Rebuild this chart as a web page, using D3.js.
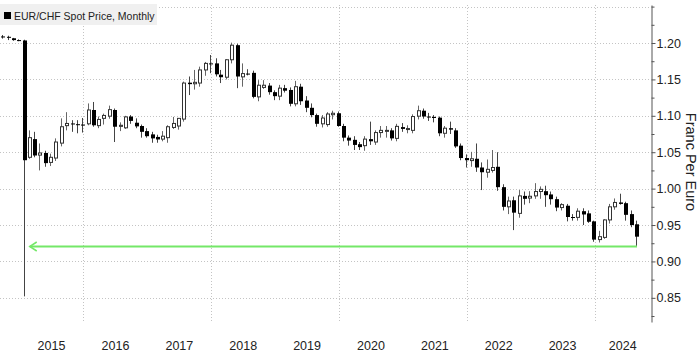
<!DOCTYPE html>
<html>
<head>
<meta charset="utf-8">
<script src="https://cdn.jsdelivr.net/npm/d3@7"></script>
<style>
body { margin: 0; background: #fff; }
text { font-family: "Liberation Sans", Arial, sans-serif; }
</style>
</head>
<body>
<svg id="chart" width="700" height="353"></svg>
<script>
// EUR/CHF monthly candles, Sep 2014 - Aug 2024
const months = [
  "2014-09","2014-10","2014-11","2014-12",
  "2015-01","2015-02","2015-03","2015-04","2015-05","2015-06","2015-07","2015-08","2015-09","2015-10","2015-11","2015-12",
  "2016-01","2016-02","2016-03","2016-04","2016-05","2016-06","2016-07","2016-08","2016-09","2016-10","2016-11","2016-12",
  "2017-01","2017-02","2017-03","2017-04","2017-05","2017-06","2017-07","2017-08","2017-09","2017-10","2017-11","2017-12",
  "2018-01","2018-02","2018-03","2018-04","2018-05","2018-06","2018-07","2018-08","2018-09","2018-10","2018-11","2018-12",
  "2019-01","2019-02","2019-03","2019-04","2019-05","2019-06","2019-07","2019-08","2019-09","2019-10","2019-11","2019-12",
  "2020-01","2020-02","2020-03","2020-04","2020-05","2020-06","2020-07","2020-08","2020-09","2020-10","2020-11","2020-12",
  "2021-01","2021-02","2021-03","2021-04","2021-05","2021-06","2021-07","2021-08","2021-09","2021-10","2021-11","2021-12",
  "2022-01","2022-02","2022-03","2022-04","2022-05","2022-06","2022-07","2022-08","2022-09","2022-10","2022-11","2022-12",
  "2023-01","2023-02","2023-03","2023-04","2023-05","2023-06","2023-07","2023-08","2023-09","2023-10","2023-11","2023-12",
  "2024-01","2024-02","2024-03","2024-04","2024-05","2024-06","2024-07","2024-08"
];
const open = [
  1.2090,1.2085,1.2065,1.2040,
  1.2035,1.0430,1.0680,1.0460,1.0490,1.0360,1.0420,1.0625,1.0865,1.0895,1.0885,1.0880,
  1.0890,1.1080,1.0865,1.0965,1.0995,1.1080,1.0855,1.0835,1.0990,1.0905,1.0860,1.0790,
  1.0745,1.0710,1.0680,1.0700,1.0840,1.0860,1.0955,1.1455,1.1440,1.1450,1.1630,1.1720,
  1.1720,1.1565,1.1530,1.1770,1.1970,1.1535,1.1580,1.1590,1.1260,1.1390,1.1415,1.1325,
  1.1270,1.1380,1.1355,1.1165,1.1400,1.1210,1.1110,1.1010,1.0890,1.0880,1.1015,1.1035,
  1.0860,1.0700,1.0670,1.0610,1.0590,1.0680,1.0640,1.0770,1.0800,1.0800,1.0690,1.0845,
  1.0820,1.0800,1.0995,1.1070,1.0990,1.0985,1.0975,1.0760,1.0830,1.0800,1.0590,1.0420,
  1.0385,1.0410,1.0290,1.0225,1.0250,1.0300,1.0020,0.9750,0.9840,0.9660,0.9900,0.9870,
  0.9900,0.9960,0.9965,0.9920,0.9855,0.9740,0.9765,0.9610,0.9605,0.9690,0.9660,0.9550,
  0.9300,0.9330,0.9570,0.9750,0.9810,0.9800,0.9650,0.9510
];
const high = [
  1.2110,1.2100,1.2070,1.2050,
  1.2045,1.0800,1.0780,1.0620,1.0520,1.0480,1.0690,1.0965,1.1050,1.0940,1.0940,1.0970,
  1.1170,1.1190,1.0990,1.1030,1.1140,1.1100,1.0910,1.1000,1.1010,1.0965,1.0880,1.0830,
  1.0780,1.0740,1.0790,1.0870,1.0985,1.0970,1.1470,1.1540,1.1630,1.1675,1.1740,1.1835,
  1.1790,1.1630,1.1780,1.2005,1.1990,1.1720,1.1640,1.1620,1.1490,1.1490,1.1450,1.1350,
  1.1425,1.1425,1.1390,1.1480,1.1440,1.1270,1.1170,1.1030,1.1010,1.1050,1.1070,1.1060,
  1.0890,1.0730,1.0720,1.0640,1.0720,1.0920,1.0800,1.0860,1.0860,1.0830,1.0890,1.0900,
  1.0870,1.1020,1.1140,1.1100,1.1040,1.1010,1.0990,1.0860,1.0920,1.0830,1.0620,1.0470,
  1.0505,1.0620,1.0360,1.0400,1.0530,1.0500,1.0060,0.9890,0.9890,0.9980,0.9960,0.9965,
  1.0075,1.0030,1.0040,0.9960,0.9890,0.9800,0.9790,0.9650,0.9730,0.9730,0.9700,0.9560,
  0.9420,0.9580,0.9790,0.9865,0.9930,0.9820,0.9700,0.9560
];
const low = [
  1.2060,1.2040,1.2030,1.2025,
  0.8520,1.0410,1.0430,1.0250,1.0300,1.0310,1.0380,1.0580,1.0800,1.0780,1.0760,1.0770,
  1.0870,1.0850,1.0830,1.0880,1.0960,1.0640,1.0790,1.0820,1.0890,1.0830,1.0700,1.0700,
  1.0630,1.0630,1.0650,1.0630,1.0820,1.0810,1.0920,1.1285,1.1360,1.1400,1.1550,1.1585,
  1.1540,1.1450,1.1500,1.1720,1.1380,1.1400,1.1555,1.1240,1.1200,1.1370,1.1290,1.1215,
  1.1215,1.1320,1.1130,1.1130,1.1150,1.1050,1.0980,1.0850,1.0840,1.0850,1.0950,1.0850,
  1.0650,1.0590,1.0530,1.0530,1.0520,1.0600,1.0600,1.0700,1.0700,1.0660,1.0650,1.0780,
  1.0760,1.0760,1.0950,1.0960,1.0930,1.0910,1.0720,1.0700,1.0750,1.0560,1.0390,1.0290,
  1.0300,1.0230,0.9980,1.0150,1.0220,0.9970,0.9700,0.9650,0.9430,0.9600,0.9780,0.9800,
  0.9860,0.9860,0.9750,0.9780,0.9690,0.9700,0.9550,0.9560,0.9560,0.9500,0.9530,0.9270,
  0.9260,0.9310,0.9520,0.9710,0.9780,0.9560,0.9470,0.9210
];
const close = [
  1.2085,1.2075,1.2040,1.2035,
  1.0390,1.0700,1.0455,1.0490,1.0350,1.0430,1.0640,1.0850,1.0895,1.0885,1.0880,1.0875,
  1.1080,1.0870,1.0950,1.1005,1.1085,1.0850,1.0870,1.0985,1.0930,1.0855,1.0780,1.0720,
  1.0690,1.0675,1.0720,1.0850,1.0895,1.0965,1.1450,1.1435,1.1460,1.1630,1.1720,1.1715,
  1.1570,1.1530,1.1770,1.1970,1.1540,1.1580,1.1575,1.1260,1.1420,1.1420,1.1325,1.1270,
  1.1380,1.1345,1.1165,1.1400,1.1200,1.1110,1.1010,1.0890,1.0970,1.1025,1.1035,1.0860,
  1.0700,1.0660,1.0600,1.0570,1.0680,1.0650,1.0770,1.0800,1.0800,1.0690,1.0855,1.0820,
  1.0825,1.0990,1.1070,1.0990,1.0985,1.0970,1.0760,1.0830,1.0810,1.0580,1.0420,1.0390,
  1.0410,1.0290,1.0225,1.0265,1.0290,1.0020,0.9750,0.9830,0.9670,0.9900,0.9860,0.9895,
  0.9960,0.9990,0.9910,0.9855,0.9740,0.9780,0.9610,0.9605,0.9690,0.9645,0.9545,0.9300,
  0.9340,0.9570,0.9750,0.9810,0.9790,0.9640,0.9500,0.9340
];

const yTickLabels = [0.85, 0.90, 0.95, 1.00, 1.05, 1.10, 1.15, 1.20];
const yGridValues = [0.85, 0.90, 0.95, 1.00, 1.05, 1.10, 1.15, 1.20, 1.25];
const yMinorTicks = [0.825, 0.875, 0.925, 0.975, 1.025, 1.075, 1.125, 1.175, 1.225, 1.25];
const yearLabels = [2015, 2016, 2017, 2018, 2019, 2020, 2021, 2022, 2023, 2024];
const xGridYears = [2016, 2018, 2020, 2022, 2024];
const legendLabel = "EUR/CHF Spot Price, Monthly";
const axisTitle = "Franc Per Euro";
// green arrow annotation: level and the months it spans
const arrowLevel = 0.9215;
const arrowFrom = "2024-08";
const arrowTo = "2015-02";

const monthEnd = s => { const [y, m] = s.split("-").map(Number); return new Date(Date.UTC(y, m, 0)); };

const data = months.map((m, i) => ({
  date: monthEnd(m), o: open[i], h: high[i], l: low[i], c: close[i]
}));

const svg = d3.select("#chart");
const plotLeft = 0, plotRight = 651, plotTop = 5, plotBottom = 322;

const x = d3.scaleUtc()
  .domain([new Date(Date.UTC(2014, 8, 11)), new Date(Date.UTC(2024, 10, 19))])
  .range([plotLeft, plotRight]);
const y = d3.scaleLinear()
  .domain([0.8168, 1.2522])
  .range([plotBottom, plotTop]);

// grid
const grid = svg.append("g");
grid.selectAll(".hg").data(yGridValues).enter().append("line")
  .attr("x1", plotLeft).attr("x2", plotRight)
  .attr("y1", d => Math.round(y(d)) + 0.5).attr("y2", d => Math.round(y(d)) + 0.5)
  .attr("stroke", "#c4c4c4").attr("stroke-dasharray", "1,2");
grid.selectAll(".vg").data(xGridYears).enter().append("line")
  .attr("x1", d => Math.round(x(new Date(Date.UTC(d, 0, 1)))) + 0.5)
  .attr("x2", d => Math.round(x(new Date(Date.UTC(d, 0, 1)))) + 0.5)
  .attr("y1", plotTop).attr("y2", plotBottom)
  .attr("stroke", "#c4c4c4").attr("stroke-dasharray", "1,2");

// candles
const bw = 4;
const cg = svg.append("g");
cg.selectAll(".wick").data(data).enter().append("line")
  .attr("x1", d => Math.round(x(d.date)) - 0.5)
  .attr("x2", d => Math.round(x(d.date)) - 0.5)
  .attr("y1", d => y(d.h)).attr("y2", d => y(d.l))
  .attr("stroke", d => d.c >= d.o ? "#666" : "#444")
  .attr("stroke-width", 1);

cg.selectAll(".body").data(data).enter().append("rect")
  .attr("x", d => d.c >= d.o ? Math.round(x(d.date)) - bw / 2 + 0.5 : Math.round(x(d.date)) - bw / 2)
  .attr("width", d => d.c >= d.o ? bw - 1 : bw)
  .attr("y", d => y(Math.max(d.o, d.c)))
  .attr("height", d => Math.max(1, Math.abs(y(d.o) - y(d.c))))
  .attr("fill", d => d.c >= d.o ? "#fff" : "#000")
  .attr("stroke", d => d.c >= d.o ? "#333" : "none")
  .attr("stroke-width", 1);

// green arrow
const ay = Math.round(y(arrowLevel)) + 0.5;
const ax1 = x(monthEnd(arrowTo)), ax2 = x(monthEnd(arrowFrom));
svg.append("line")
  .attr("x1", ax1).attr("x2", ax2).attr("y1", ay).attr("y2", ay)
  .attr("stroke", "#74e868").attr("stroke-width", 2);
svg.append("polyline")
  .attr("points", `${ax1 + 7},${ay - 4.5} ${ax1},${ay} ${ax1 + 7},${ay + 4.5}`)
  .attr("fill", "none").attr("stroke", "#74e868").attr("stroke-width", 1.5);

// right axis
const axisG = svg.append("g").attr("transform", `translate(${plotRight + 0.5},0)`);
axisG.call(d3.axisRight(y).tickValues(yTickLabels).tickSize(4).tickSizeOuter(0).tickPadding(1)
  .tickFormat(d3.format(".2f")));
axisG.select(".domain").attr("stroke", "#555");
axisG.selectAll(".tick line").attr("stroke", "#555");
axisG.selectAll(".tick text").attr("fill", "#222")
  .style("font-size", "12.5px").style("font-family", "'Liberation Sans', Arial, sans-serif");
const minorG = svg.append("g").attr("transform", `translate(${plotRight + 0.5},0)`);
minorG.call(d3.axisRight(y).tickValues(yMinorTicks).tickSize(3).tickFormat(""));
minorG.select(".domain").remove();
minorG.selectAll(".tick line").attr("stroke", "#555");

// year labels centered on visible part of each year
svg.selectAll(".yr").data(yearLabels).enter().append("text")
  .attr("x", d => {
    const a = Math.max(x(new Date(Date.UTC(d, 0, 1))), plotLeft);
    const b = Math.min(x(new Date(Date.UTC(d + 1, 0, 1))), plotRight);
    return (a + b) / 2;
  })
  .attr("y", 350)
  .attr("text-anchor", "middle")
  .attr("fill", "#222")
  .style("font-size", "12.5px")
  .text(d => d);

// axis title
svg.append("text")
  .attr("transform", `translate(690,162) rotate(90)`)
  .attr("text-anchor", "middle")
  .attr("dominant-baseline", "middle")
  .attr("fill", "#222")
  .style("font-size", "14.5px")
  .text(axisTitle);

// legend
const lg = svg.append("g");
lg.append("rect").attr("x", 0).attr("y", 4).attr("width", 157).attr("height", 21).attr("fill", "#f0f0f0");
lg.append("rect").attr("x", 4).attr("y", 12).attr("width", 7).attr("height", 7).attr("fill", "#000");
lg.append("text").attr("x", 14).attr("y", 19.5).attr("fill", "#222")
  .style("font-size", "10.5px").text(legendLabel);
</script>
</body>
</html>
